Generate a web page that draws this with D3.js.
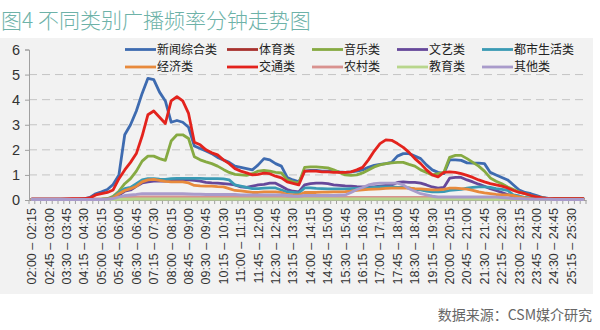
<!DOCTYPE html>
<html><head><meta charset="utf-8">
<script src="https://cdn.jsdelivr.net/npm/d3@7"></script>
<style>
html,body{margin:0;padding:0;background:#fff;}
svg{display:block;}
</style></head>
<body><svg id="c" width="600" height="330"></svg>
<script>
// x-axis category start/end times (every 15 minutes, 02:00 to 26:00)
const startTimes = ["02:00","02:15","02:30","02:45","03:00","03:15","03:30","03:45","04:00","04:15","04:30","04:45","05:00","05:15","05:30","05:45","06:00","06:15","06:30","06:45","07:00","07:15","07:30","07:45","08:00","08:15","08:30","08:45","09:00","09:15","09:30","09:45","10:00","10:15","10:30","10:45","11:00","11:15","11:30","11:45","12:00","12:15","12:30","12:45","13:00","13:15","13:30","13:45","14:00","14:15","14:30","14:45","15:00","15:15","15:30","15:45","16:00","16:15","16:30","16:45","17:00","17:15","17:30","17:45","18:00","18:15","18:30","18:45","19:00","19:15","19:30","19:45","20:00","20:15","20:30","20:45","21:00","21:15","21:30","21:45","22:00","22:15","22:30","22:45","23:00","23:15","23:30","23:45","24:00","24:15","24:30","24:45","25:00","25:15","25:30","25:45"];
const endTimes = ["02:15","02:30","02:45","03:00","03:15","03:30","03:45","04:00","04:15","04:30","04:45","05:00","05:15","05:30","05:45","06:00","06:15","06:30","06:45","07:00","07:15","07:30","07:45","08:00","08:15","08:30","08:45","09:00","09:15","09:30","09:45","10:00","10:15","10:30","10:45","11:00","11:15","11:30","11:45","12:00","12:15","12:30","12:45","13:00","13:15","13:30","13:45","14:00","14:15","14:30","14:45","15:00","15:15","15:30","15:45","16:00","16:15","16:30","16:45","17:00","17:15","17:30","17:45","18:00","18:15","18:30","18:45","19:00","19:15","19:30","19:45","20:00","20:15","20:30","20:45","21:00","21:15","21:30","21:45","22:00","22:15","22:30","22:45","23:00","23:15","23:30","23:45","24:00","24:15","24:30","24:45","25:00","25:15","25:30","25:45","26:00"];
const yTicks = [0,1,2,3,4,5,6];

const seriesNames = ["新闻综合类","体育类","音乐类","文艺类","都市生活类","经济类","交通类","农村类","教育类","其他类"];

const news = [0.03,0.03,0.03,0.03,0.03,0.03,0.03,0.03,0.03,0.05, 0.1,0.25,0.33,0.42,0.62,1.0,2.6,3.0,3.55,4.25, 4.85,4.8,4.3,3.95,3.1,3.17,3.1,2.9,2.15,2.05, 1.95,1.85,1.7,1.6,1.5,1.35,1.3,1.25,1.2,1.4, 1.65,1.6,1.45,1.35,0.9,0.8,0.72,1.15,1.18,1.18, 1.15,1.15,1.15,1.12,1.1,1.12,1.15,1.2,1.3,1.38, 1.42,1.45,1.5,1.75,1.85,1.85,1.75,1.65,1.4,1.2, 1.1,1.05,1.6,1.6,1.58,1.48,1.47,1.47,1.45,1.1, 1.0,0.9,0.8,0.6,0.4,0.3,0.25,0.18,0.1,0.06, 0.05,0.05,0.05,0.05,0.05,0.05];
const sports = [0.03,0.03,0.03,0.03,0.03,0.03,0.03,0.03,0.03,0.03, 0.03,0.03,0.03,0.03,0.04,0.05,0.05,0.06,0.06,0.06, 0.07,0.07,0.07,0.07,0.07,0.07,0.07,0.07,0.06,0.06, 0.06,0.06,0.06,0.06,0.06,0.06,0.06,0.06,0.06,0.06, 0.06,0.06,0.06,0.06,0.05,0.05,0.05,0.06,0.06,0.06, 0.06,0.06,0.06,0.06,0.06,0.06,0.06,0.07,0.07,0.07, 0.07,0.07,0.07,0.07,0.07,0.07,0.07,0.07,0.07,0.07, 0.07,0.07,0.07,0.07,0.07,0.07,0.07,0.06,0.06,0.06, 0.06,0.06,0.05,0.05,0.04,0.04,0.03,0.03,0.03,0.03, 0.03,0.03,0.03,0.03,0.03,0.03];
const music = [0.02,0.02,0.02,0.02,0.02,0.02,0.02,0.02,0.02,0.02, 0.02,0.02,0.03,0.05,0.15,0.35,0.65,0.85,1.15,1.55, 1.75,1.75,1.65,1.58,2.35,2.6,2.6,2.45,1.72,1.6, 1.52,1.45,1.35,1.22,1.1,1.02,1.0,0.98,1.05,1.15, 1.18,1.15,1.1,1.08,0.8,0.72,0.67,1.3,1.32,1.32, 1.3,1.28,1.2,1.1,1.0,0.98,1.0,1.08,1.2,1.32, 1.4,1.45,1.48,1.5,1.5,1.42,1.35,1.2,1.1,1.0, 1.05,1.1,1.7,1.78,1.78,1.65,1.5,1.35,1.15,0.88, 0.75,0.65,0.52,0.42,0.32,0.25,0.18,0.12,0.08,0.05, 0.04,0.04,0.04,0.04,0.04,0.04];
const arts = [0.02,0.02,0.02,0.02,0.02,0.02,0.02,0.02,0.02,0.02, 0.02,0.02,0.02,0.03,0.05,0.2,0.35,0.4,0.55,0.68, 0.72,0.75,0.75,0.75,0.78,0.8,0.8,0.8,0.78,0.75, 0.7,0.68,0.67,0.65,0.63,0.6,0.52,0.5,0.55,0.6, 0.62,0.67,0.67,0.55,0.42,0.35,0.32,0.6,0.65,0.67, 0.67,0.65,0.6,0.58,0.56,0.55,0.53,0.52,0.52,0.52, 0.55,0.58,0.6,0.7,0.72,0.7,0.7,0.67,0.6,0.52, 0.47,0.5,0.87,0.9,0.9,0.8,0.72,0.63,0.55,0.45, 0.38,0.3,0.22,0.14,0.1,0.07,0.05,0.04,0.03,0.03, 0.02,0.02,0.02,0.02,0.02,0.02];
const urban = [0.02,0.02,0.02,0.02,0.02,0.02,0.02,0.02,0.02,0.02, 0.02,0.02,0.02,0.03,0.1,0.3,0.45,0.5,0.65,0.8, 0.85,0.85,0.83,0.82,0.85,0.86,0.86,0.86,0.86,0.86, 0.85,0.85,0.85,0.84,0.8,0.6,0.55,0.5,0.45,0.45, 0.47,0.48,0.48,0.4,0.32,0.3,0.28,0.48,0.48,0.46, 0.45,0.44,0.44,0.44,0.44,0.45,0.46,0.47,0.48,0.5, 0.52,0.52,0.52,0.5,0.5,0.48,0.42,0.4,0.35,0.32, 0.32,0.33,0.38,0.4,0.42,0.47,0.5,0.52,0.52,0.5, 0.45,0.42,0.38,0.2,0.16,0.1,0.08,0.05,0.04,0.03, 0.02,0.02,0.02,0.02,0.02,0.02];
const economy = [0.02,0.02,0.02,0.02,0.02,0.02,0.02,0.02,0.02,0.02, 0.02,0.02,0.02,0.03,0.08,0.25,0.38,0.45,0.55,0.72, 0.8,0.82,0.78,0.74,0.72,0.72,0.72,0.68,0.58,0.56, 0.55,0.55,0.53,0.52,0.45,0.38,0.36,0.33,0.3,0.3, 0.32,0.32,0.32,0.3,0.22,0.2,0.2,0.3,0.3,0.3, 0.31,0.31,0.32,0.32,0.33,0.35,0.38,0.4,0.42,0.43, 0.44,0.46,0.47,0.47,0.47,0.47,0.45,0.44,0.42,0.4, 0.4,0.42,0.47,0.47,0.45,0.43,0.38,0.32,0.28,0.25, 0.22,0.2,0.2,0.18,0.12,0.08,0.05,0.04,0.03,0.03, 0.02,0.02,0.02,0.02,0.02,0.02];
const traffic = [0.03,0.03,0.03,0.03,0.03,0.03,0.04,0.05,0.05,0.05, 0.08,0.2,0.25,0.3,0.4,0.85,1.2,1.5,1.85,2.55, 3.4,3.55,3.3,3.05,3.95,4.12,3.95,3.45,2.3,2.2, 2.0,1.88,1.8,1.6,1.45,1.25,1.15,1.08,1.0,1.02, 1.07,1.05,0.95,0.88,0.72,0.66,0.6,1.15,1.15,1.15, 1.12,1.12,1.1,1.1,1.1,1.12,1.2,1.3,1.6,1.95, 2.25,2.4,2.38,2.25,2.1,1.9,1.65,1.45,1.2,1.0, 0.92,1.1,1.12,1.1,1.05,0.98,0.9,0.8,0.72,0.65, 0.6,0.55,0.48,0.38,0.3,0.25,0.18,0.12,0.08,0.05, 0.05,0.05,0.05,0.05,0.05,0.05];
const rural = [0.02,0.02,0.02,0.02,0.02,0.02,0.02,0.02,0.02,0.02, 0.02,0.02,0.02,0.02,0.05,0.08,0.1,0.1,0.12,0.12, 0.12,0.12,0.12,0.12,0.12,0.12,0.12,0.12,0.11,0.11, 0.1,0.1,0.1,0.1,0.1,0.1,0.1,0.1,0.1,0.1, 0.1,0.1,0.1,0.1,0.09,0.09,0.09,0.1,0.1,0.1, 0.1,0.1,0.1,0.1,0.1,0.1,0.1,0.1,0.1,0.1, 0.1,0.1,0.1,0.1,0.1,0.1,0.1,0.1,0.1,0.1, 0.1,0.1,0.1,0.1,0.1,0.1,0.1,0.1,0.1,0.1, 0.1,0.08,0.07,0.05,0.04,0.03,0.02,0.02,0.02,0.02, 0.02,0.02,0.02,0.02,0.02,0.02];
const education = [0.02,0.02,0.02,0.02,0.02,0.02,0.02,0.02,0.02,0.02, 0.02,0.02,0.02,0.02,0.02,0.03,0.03,0.03,0.04,0.04, 0.04,0.04,0.04,0.04,0.04,0.04,0.04,0.04,0.04,0.04, 0.04,0.04,0.04,0.04,0.04,0.04,0.04,0.04,0.04,0.04, 0.04,0.04,0.04,0.04,0.03,0.03,0.03,0.04,0.04,0.04, 0.04,0.04,0.04,0.04,0.04,0.04,0.04,0.04,0.04,0.04, 0.04,0.04,0.04,0.04,0.04,0.04,0.04,0.04,0.04,0.04, 0.04,0.04,0.04,0.04,0.04,0.04,0.04,0.04,0.04,0.03, 0.03,0.03,0.03,0.03,0.03,0.02,0.02,0.02,0.02,0.02, 0.02,0.02,0.02,0.02,0.02,0.02];
const others = [0.02,0.02,0.02,0.02,0.02,0.02,0.02,0.02,0.02,0.02, 0.02,0.02,0.02,0.03,0.05,0.12,0.18,0.2,0.22,0.25, 0.25,0.25,0.25,0.25,0.25,0.25,0.25,0.24,0.23,0.23, 0.22,0.22,0.22,0.22,0.22,0.22,0.2,0.2,0.2,0.2, 0.2,0.2,0.2,0.2,0.18,0.16,0.15,0.18,0.18,0.18, 0.18,0.18,0.18,0.19,0.2,0.3,0.42,0.5,0.6,0.65, 0.67,0.67,0.67,0.67,0.6,0.45,0.35,0.25,0.2,0.15, 0.12,0.12,0.12,0.12,0.12,0.12,0.12,0.12,0.12,0.12, 0.12,0.1,0.08,0.06,0.05,0.04,0.03,0.03,0.03,0.03, 0.02,0.02,0.02,0.02,0.02,0.02];

const seriesValues = [news, sports, music, arts, urban, economy, traffic, rural, education, others];
const colors = ["#3e6bb0","#a8312e","#86aa42","#66489a","#3a9ab4","#e88a3c","#e3231d","#d9928f","#b8d68c","#a99bcb"];

const svg = d3.select("#c");

// background panel
svg.append("rect").attr("x",0).attr("y",38).attr("width",593).attr("height",256).attr("fill","#f2f2f2");

// title
svg.append("text").attr("x",1).attr("y",28)
  .attr("font-family","'Noto Sans CJK SC', sans-serif").attr("font-size",21).attr("font-weight",300).attr("fill","#6db2a8")
  .text("图4 不同类别广播频率分钟走势图");

const pLeft = 29, pRight = 586, pTop = 49.5, pBottom = 200;
const cats = startTimes.map((s,i)=>i);
const x = d3.scaleBand().domain(cats).range([pLeft,pRight]).paddingInner(0).paddingOuter(0);
const y = d3.scaleLinear().domain([0,6]).range([pBottom, pTop]);

// gridlines
svg.append("g").selectAll("line").data(yTicks.filter(t=>t>0 && t<6)).join("line")
  .attr("x1",pLeft).attr("x2",pRight).attr("y1",d=>y(d)).attr("y2",d=>y(d))
  .attr("stroke","#c4c4c4").attr("stroke-width",1).attr("stroke-dasharray","8,5");

// y axis
const yAxis = d3.axisLeft(y).tickValues(yTicks).tickSize(4).tickFormat(d3.format("d"));
const gy = svg.append("g").attr("transform",`translate(${pLeft},0)`).call(yAxis);
gy.select(".domain").attr("stroke","#a0a0a0");
gy.selectAll(".tick line").attr("stroke","#a0a0a0");
gy.selectAll(".tick text").attr("font-family","'Liberation Sans', Arial, sans-serif").attr("font-size",14.5).attr("fill","#333").attr("x",-9);

// x axis
const labelIdx = cats.filter(i=>i%3===0);
const xAxis = d3.axisBottom(x).tickValues(labelIdx).tickSize(0).tickFormat(i=>startTimes[i]+" – "+endTimes[i]);
const gx = svg.append("g").attr("transform",`translate(0,${pBottom})`).call(xAxis);
gx.select(".domain").attr("stroke","#a0a0a0");
gx.selectAll(".tick text")
  .attr("font-family","'Liberation Sans', Arial, sans-serif").attr("font-size",12.5).attr("fill","#333")
  .attr("transform","rotate(-90)").attr("text-anchor","end").attr("x",-8).attr("y",0).attr("dy","0.35em");
// category boundary tick marks
svg.append("g").selectAll("line").data(cats.concat([cats.length])).join("line")
  .attr("x1",i=>pLeft + i*x.step()).attr("x2",i=>pLeft + i*x.step())
  .attr("y1",pBottom).attr("y2",pBottom+4).attr("stroke","#a0a0a0").attr("stroke-width",1);

// lines
const line = d3.line().x((d,i)=>x(i)+x.bandwidth()/2).y(d=>y(d));
svg.append("g").selectAll("path").data(seriesValues).join("path")
  .attr("d",d=>line(d)).attr("fill","none")
  .attr("stroke",(d,i)=>colors[i]).attr("stroke-width",2.8)
  .attr("stroke-linejoin","round").attr("stroke-linecap","round");

// legend
const legX = [125,227,312,397,482];
const legY = [49.5,67];
const lg = svg.append("g");
seriesNames.forEach((n,i)=>{
  const cx = legX[i%5], cy = legY[Math.floor(i/5)];
  lg.append("line").attr("x1",cx).attr("x2",cx+31).attr("y1",cy).attr("y2",cy)
    .attr("stroke",colors[i]).attr("stroke-width",2.8);
  lg.append("text").attr("x",cx+32).attr("y",cy).attr("dy","0.36em")
    .attr("font-family","'Noto Sans CJK SC', sans-serif").attr("font-size",12).attr("fill","#222").text(n);
});

// source
svg.append("text").attr("x",592).attr("y",320).attr("text-anchor","end")
  .attr("font-family","'Noto Sans CJK SC', sans-serif").attr("font-size",14).attr("fill","#666")
  .text("数据来源：CSM媒介研究");
</script>
</body></html>
